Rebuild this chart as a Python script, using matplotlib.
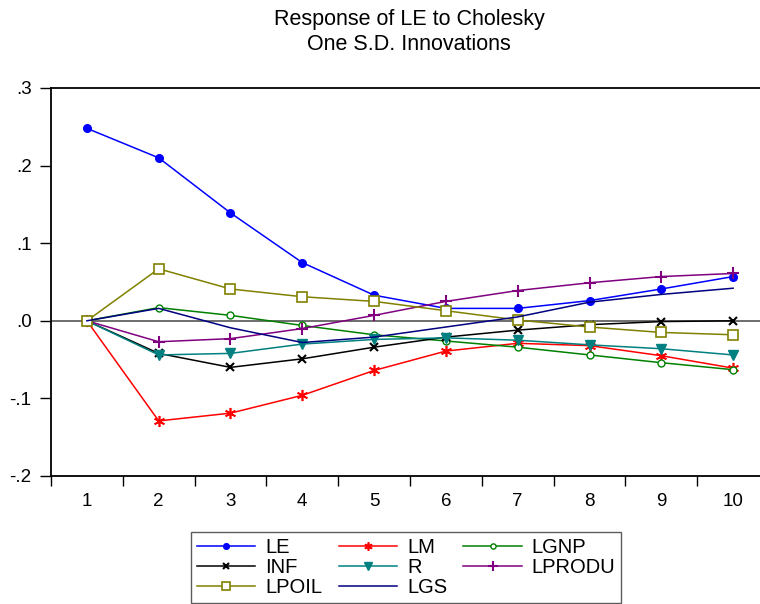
import matplotlib
matplotlib.use("Agg")
import matplotlib.pyplot as plt
from matplotlib.lines import Line2D

plt.rcParams['font.family'] = ['Liberation Sans', 'DejaVu Sans']

periods = [1, 2, 3, 4, 5, 6, 7, 8, 9, 10]
LE = [0.248, 0.210, 0.139, 0.075, 0.033, 0.016, 0.016, 0.026, 0.041, 0.057]
LM = [0.0, -0.129, -0.119, -0.096, -0.064, -0.039, -0.029, -0.032, -0.045, -0.061]
LGNP = [0.0, 0.017, 0.007, -0.006, -0.018, -0.026, -0.034, -0.044, -0.054, -0.063]
INF = [0.0, -0.042, -0.060, -0.049, -0.034, -0.021, -0.012, -0.005, -0.001, 0.0]
R = [0.0, -0.044, -0.042, -0.030, -0.024, -0.022, -0.025, -0.031, -0.036, -0.044]
LPRODU = [0.0, -0.027, -0.023, -0.010, 0.007, 0.025, 0.039, 0.049, 0.057, 0.061]
LPOIL = [0.0, 0.067, 0.041, 0.031, 0.025, 0.013, 0.001, -0.008, -0.015, -0.018]
LGS = [0.0, 0.016, -0.009, -0.028, -0.021, -0.008, 0.005, 0.024, 0.034, 0.042]

yticks = [0.3, 0.2, 0.1, 0.0, -0.1, -0.2]
ytick_labels = ['.3', '.2', '.1', '.0', '-.1', '-.2']

W, H = 760, 604
fig = plt.figure(figsize=(W / 100, H / 100), dpi=100)
left, right, top, bottom = 51, 769, 88, 476
ax = fig.add_axes([left / W, 1 - bottom / H, (right - left) / W, (bottom - top) / H])

ax.axhline(0, color='#555555', lw=1.2, zorder=1)

series = [
    ('LE', LE, dict(color='#0000ff', marker='o', ms=5.5, mfc='#0000ff', mec='#0000ff')),
    ('LM', LM, dict(color='#ff0000', marker=(6, 2, 0), ms=8, mew=1.2)),
    ('LGNP', LGNP, dict(color='#008000', marker='o', ms=5, mfc='white', mec='#008000', mew=1.0)),
    ('INF', INF, dict(color='#000000', marker='x', ms=6, mew=1.5)),
    ('R', R, dict(color='#008080', marker='v', ms=7, mfc='#008080', mec='#008080')),
    ('LPRODU', LPRODU, dict(color='#800080', marker='+', ms=9, mew=1.5)),
    ('LPOIL', LPOIL, dict(color='#808000', marker='s', ms=7, mfc='white', mec='#808000', mew=1.2)),
    ('LGS', LGS, dict(color='#000080')),
]

handles = []
for name, vals, st in series:
    ax.plot(periods, vals, lw=1.1, label=name, zorder=3, **st)
    hst = dict(st)
    if 'ms' in hst:
        hst['ms'] = hst['ms'] * 0.75
    handles.append(Line2D([], [], lw=1.1, label=name, **hst))

ax.set_xlim(0.5, 10.5)
ax.set_ylim(-0.2, 0.3)
ax.set_yticks(yticks)
ax.set_yticklabels(ytick_labels, fontsize=13.5)
ax.set_xticks([i + 0.5 for i in range(0, 11)])
ax.set_xticklabels([])
ax.set_xticks(periods, minor=True)
ax.set_xticklabels([str(p) for p in periods], minor=True, fontsize=13.5)
ax.tick_params(axis='x', which='minor', length=0, pad=12)
ax.tick_params(axis='x', which='major', length=7, direction='out', width=1)
ax.tick_params(axis='y', length=8, direction='out', pad=6, width=1)
for s in ['top', 'left', 'bottom']:
    ax.spines[s].set_linewidth(1.3)
ax.spines['right'].set_visible(False)

fig.text(409 / W, 1 - 20 / H, 'Response of LE to Cholesky', ha='center', va='center', fontsize=15.5)
fig.text(409 / W, 1 - 45 / H, 'One S.D. Innovations', ha='center', va='center', fontsize=15.5)

order = [0, 3, 6, 1, 4, 7, 2, 5]
leg = fig.legend([handles[i] for i in order], [handles[i].get_label() for i in order],
                 ncol=3, loc='upper left', bbox_to_anchor=(191 / W, 1 - 532 / H),
                 borderaxespad=0.0,
                 frameon=True, fancybox=False, edgecolor='#333333', fontsize=14.5,
                 handlelength=2.9, columnspacing=0.8, labelspacing=0.05,
                 borderpad=0.3, handletextpad=0.5)
leg.get_frame().set_linewidth(1.0)

fig.savefig('out.png', dpi=100)
